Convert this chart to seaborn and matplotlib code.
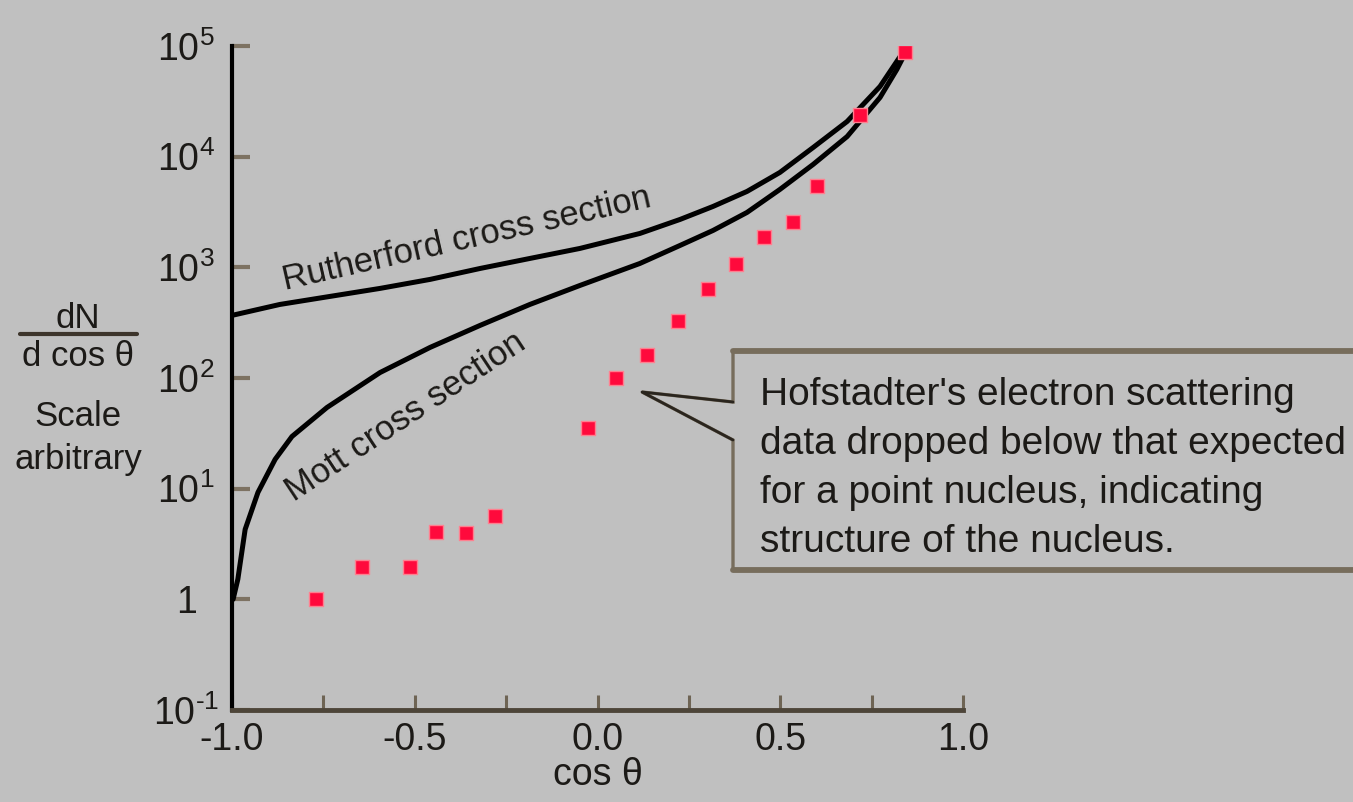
import matplotlib
matplotlib.use("Agg")
import matplotlib.pyplot as plt
import seaborn as sns
import numpy as np
import pandas as pd
from matplotlib.patches import Polygon
from matplotlib.lines import Line2D

# ---------------- data ----------------
cos_hof = [-0.770, -0.644, -0.513, -0.442, -0.360, -0.280, -0.026, 0.051, 0.135,
           0.220, 0.302, 0.379, 0.455, 0.535, 0.600, 0.718, 0.841]
dn_hof = [1.0, 1.95, 1.95, 4.1, 3.95, 5.7, 35, 101, 160,
          325, 632, 1062, 1862, 2545, 5380, 24000, 89000]

cos_ruth = [-1.0, -0.869, -0.732, -0.595, -0.458, -0.321, -0.185, -0.048, 0.116,
            0.226, 0.316, 0.409, 0.499, 0.590, 0.683, 0.773, 0.828, 0.847]
dn_ruth = [368, 462, 546, 645, 778, 977, 1203, 1482, 2024,
           2710, 3548, 4850, 7200, 12100, 20800, 43100, 80400, 96900]

cos_mott = [-0.997, -0.984, -0.964, -0.929, -0.882, -0.836, -0.740, -0.595, -0.458,
            -0.321, -0.185, -0.048, 0.116, 0.226, 0.316, 0.409, 0.499, 0.590,
            0.683, 0.773, 0.819, 0.847]
dn_mott = [1.0, 1.52, 4.29, 9.25, 18.4, 29.6, 54.2, 112, 189,
           299, 462, 686, 1084, 1578, 2153, 3133, 5055, 8510,
           15200, 34270, 61400, 93000]

ytick_vals = [1e-1, 1, 1e1, 1e2, 1e3, 1e4, 1e5]
ytick_labels = [r"$10^{\text{-}1}$", "1", "$10^{1}$", "$10^{2}$", "$10^{3}$",
                "$10^{4}$", "$10^{5}$"]
xtick_major = [-1.0, -0.5, 0.0, 0.5, 1.0]
xtick_labels = ["-1.0", "-0.5", "0.0", "0.5", "1.0"]
xtick_minor = [-0.75, -0.25, 0.25, 0.75]

# ---------------- style ----------------
BG = "#c0c0c0"
TXT = "#1c1a17"
sns.set_style("ticks")
plt.rcParams["font.family"] = ["Liberation Sans", "DejaVu Sans"]
plt.rcParams["mathtext.fontset"] = "custom"
plt.rcParams["mathtext.rm"] = "Liberation Sans"
plt.rcParams["mathtext.it"] = "Liberation Sans:italic"
plt.rcParams["text.color"] = TXT

W, H = 1353, 802
fig = plt.figure(figsize=(W / 100, H / 100), dpi=100, facecolor=BG)
ax = fig.add_axes([232 / W, 92 / H, 731 / W, 664 / H])
ax.set_facecolor("none")

df_r = pd.DataFrame({"x": cos_ruth, "y": dn_ruth})
df_m = pd.DataFrame({"x": cos_mott, "y": dn_mott})
df_h = pd.DataFrame({"x": cos_hof, "y": dn_hof})

sns.lineplot(data=df_r, x="x", y="y", ax=ax, color="black", lw=3.6, sort=False,
             estimator=None, solid_joinstyle="round")
sns.lineplot(data=df_m, x="x", y="y", ax=ax, color="black", lw=3.6, sort=False,
             estimator=None, solid_joinstyle="round")
sns.scatterplot(data=df_h, x="x", y="y", ax=ax, marker="s", s=110,
                color="#ff0a3c", edgecolor="#ff7f8f", linewidth=1.0, zorder=5)

ax.set_yscale("log")
ax.set_xlim(-1.0, 1.0)
ax.set_ylim(1e-1, 1e5)
ax.set_xlabel("")
ax.set_ylabel("")

for s in ["top", "right"]:
    ax.spines[s].set_visible(False)
ax.spines["left"].set_color("black")
ax.spines["left"].set_linewidth(3.0)
ax.spines["bottom"].set_color("#4d4539")
ax.spines["bottom"].set_linewidth(3.5)

ax.set_yticks(ytick_vals)
ax.set_yticklabels(ytick_labels)
ax.yaxis.set_minor_locator(matplotlib.ticker.NullLocator())
ax.tick_params(axis="y", which="major", direction="in", length=13, width=3,
               color="#7d7262", pad=33, labelsize=27, labelcolor=TXT)
for lab in ax.get_yticklabels():
    lab.set_horizontalalignment("center")

ax.set_xticks(xtick_major)
ax.set_xticklabels(xtick_labels)
ax.set_xticks(xtick_minor, minor=True)
ax.tick_params(axis="x", which="both", direction="in", length=11, width=2.2,
               color="#6e6454", pad=9, labelsize=27, labelcolor=TXT)

# curve labels
ax.text(-0.357, 1786, "Rutherford cross section", rotation=12.8, fontsize=25,
        ha="center", va="center", rotation_mode="anchor", color=TXT)
ax.text(-0.524, 45, "Mott cross section", rotation=33.5, fontsize=25,
        ha="center", va="center", rotation_mode="anchor", color=TXT)

# overlay in pixel coordinates for annotations
ov = fig.add_axes([0, 0, 1, 1], zorder=10)
ov.set_xlim(0, W)
ov.set_ylim(H, 0)
ov.axis("off")
ov.patch.set_alpha(0)

# x axis label
ov.text(598, 775, "cos θ", fontsize=27, ha="center", va="center", color=TXT)

# y axis label (fraction)
ov.text(78, 318, "dN", fontsize=25, ha="center", va="center", color=TXT)
ov.add_line(Line2D([20, 137], [334, 334], color="#3d352b", lw=3.0))
ov.text(78, 357, "d cos θ", fontsize=25, ha="center", va="center", color=TXT)
ov.text(78, 417, "Scale", fontsize=25, ha="center", va="center", color=TXT)
ov.text(78, 460, "arbitrary", fontsize=25, ha="center", va="center", color=TXT)

# callout box
EC = "#776d5c"
callout = Polygon([[1360, 351], [733, 351], [733, 402], [642, 392], [733, 440],
                   [733, 570], [1360, 570]], closed=False, facecolor=BG,
                  edgecolor=EC, lw=2.4, joinstyle="miter")
ov.add_patch(callout)
ov.add_line(Line2D([733, 1360], [351, 351], color=EC, lw=4.2))
ov.add_line(Line2D([733, 1360], [570, 570], color=EC, lw=4.2))
ov.add_line(Line2D([733, 642, 733], [402, 392, 440], color="#2a251e", lw=2.0))

ov.text(760, 377, "Hofstadter's electron scattering\n"
                  "data dropped below that expected\n"
                  "for a point nucleus, indicating\n"
                  "structure of the nucleus.",
        fontsize=28, ha="left", va="top", linespacing=1.46, color=TXT)

fig.savefig("out.png", dpi=100, facecolor=BG)
